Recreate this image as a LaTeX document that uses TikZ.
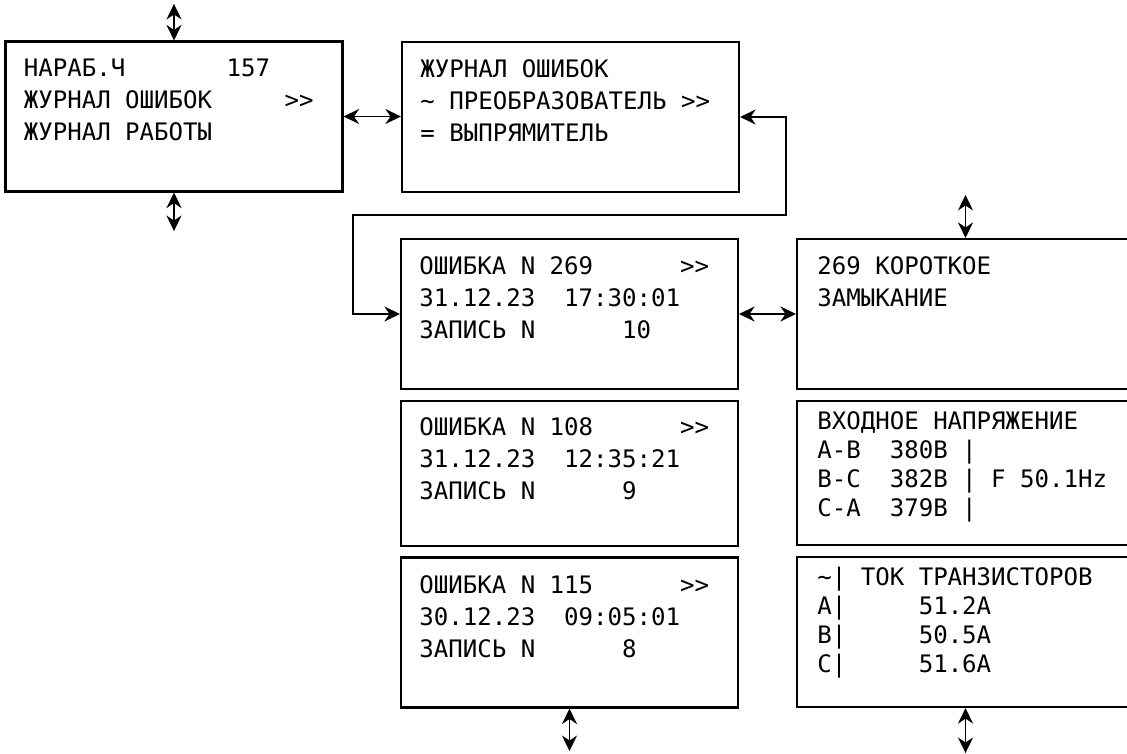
\documentclass[tikz,border=0pt]{standalone}
\usepackage{fontspec}
\setmonofont{DejaVu Sans Mono}
\usetikzlibrary{arrows.meta,positioning}

\begin{document}
\begin{tikzpicture}[
  screen/.style={draw, line width=1.2pt, minimum width=6.74cm, minimum height=3cm, inner sep=0pt},
  lcd/.style={anchor=north west, inner sep=0pt, align=left, font=\ttfamily\fontsize{13.7}{18.2}\selectfont},
  lcdfour/.style={lcd, font=\ttfamily\fontsize{13.7}{16.5}\selectfont},
  nav/.style={{Stealth[length=3.1mm,width=3mm,inset=1mm]}-{Stealth[length=3.1mm,width=3mm,inset=1mm]}, line width=1pt}
]
\useasboundingbox (0,0) rectangle (22.54,-15.08);
\clip (0,0) rectangle (22.54,-15.08);

% screens, left to right and top to bottom
\node[screen] (menu) at (3.48,-2.33) {};
\node[screen] (errlog) at (11.41,-2.34) {};
\node[screen] (err269) at (11.39,-6.28) {};
\node[screen, minimum height=2.9cm] (err108) at (11.39,-9.47) {};
\node[screen] (err115) at (11.39,-12.65) {};
\node[screen] (desc) at (19.31,-6.28) {};
\node[screen, minimum height=2.88cm] (volt) at (19.31,-9.46) {};
\node[screen] (curr) at (19.31,-12.64) {};

% screen texts
\node[lcd] (menu-t) at ([shift={(0.38,-0.37)}]menu.north west)
  {НАРАБ.Ч~~~~~~~157\\ЖУРНАЛ~ОШИБОК~~~~~>>\\ЖУРНАЛ~РАБОТЫ};
\node[lcd] (errlog-t) at ([shift={(0.38,-0.37)}]errlog.north west)
  {ЖУРНАЛ~ОШИБОК\\\textasciitilde~ПРЕОБРАЗОВАТЕЛЬ~>>\\=~ВЫПРЯМИТЕЛЬ};
\node[lcd] (err269-t) at ([shift={(0.38,-0.37)}]err269.north west)
  {ОШИБКА~N~269~~~~~~>>\\31.12.23~~17:30:01\\ЗАПИСЬ~N~~~~~~10};
\node[lcd] (err108-t) at ([shift={(0.38,-0.35)}]err108.north west)
  {ОШИБКА~N~108~~~~~~>>\\31.12.23~~12:35:21\\ЗАПИСЬ~N~~~~~~9};
\node[lcd] (err115-t) at ([shift={(0.38,-0.37)}]err115.north west)
  {ОШИБКА~N~115~~~~~~>>\\30.12.23~~09:05:01\\ЗАПИСЬ~N~~~~~~8};
\node[lcd] (desc-t) at ([shift={(0.42,-0.37)}]desc.north west)
  {269~КОРОТКОЕ\\ЗАМЫКАНИЕ};
\node[lcdfour] (volt-t) at ([shift={(0.42,-0.22)}]volt.north west)
  {ВХОДНОЕ~НАПРЯЖЕНИЕ\\A-B~~380В~|\\B-C~~382В~|~F~50.1Hz\\C-A~~379В~|};
\node[lcdfour] (curr-t) at ([shift={(0.42,-0.21)}]curr.north west)
  {\textasciitilde|~ТОК~ТРАНЗИСТОРОВ\\A|~~~~~51.2А\\B|~~~~~50.5А\\C|~~~~~51.6А};

% free ends
\coordinate (menu-up) at ([yshift=0.73cm]menu.north);
\coordinate (menu-dn) at ([yshift=-0.77cm]menu.south);
\coordinate (desc-up) at ([yshift=0.86cm]desc.north);
\coordinate (err115-dn) at ([yshift=-0.85cm]err115.south);
\coordinate (curr-dn) at ([yshift=-0.9cm]curr.south);
\coordinate (loopR) at (15.72,-4.3);
\coordinate (loopL) at (7.06,-4.3);

% connectors
\draw[nav] (menu-up) -- (menu.north);
\draw[nav] (menu.south) -- (menu-dn);
\draw[nav] (menu.east) -- (menu.east -| errlog.west);
\draw[nav] (errlog.east) -| (loopR) -- (loopL) |- (err269.west);
\draw[nav] (err269.east) -- (desc.west);
\draw[nav] (desc-up) -- (desc.north);
\draw[nav] (err115.south) -- (err115-dn);
\draw[nav] (curr.south) -- (curr-dn);
\end{tikzpicture}
\end{document}
